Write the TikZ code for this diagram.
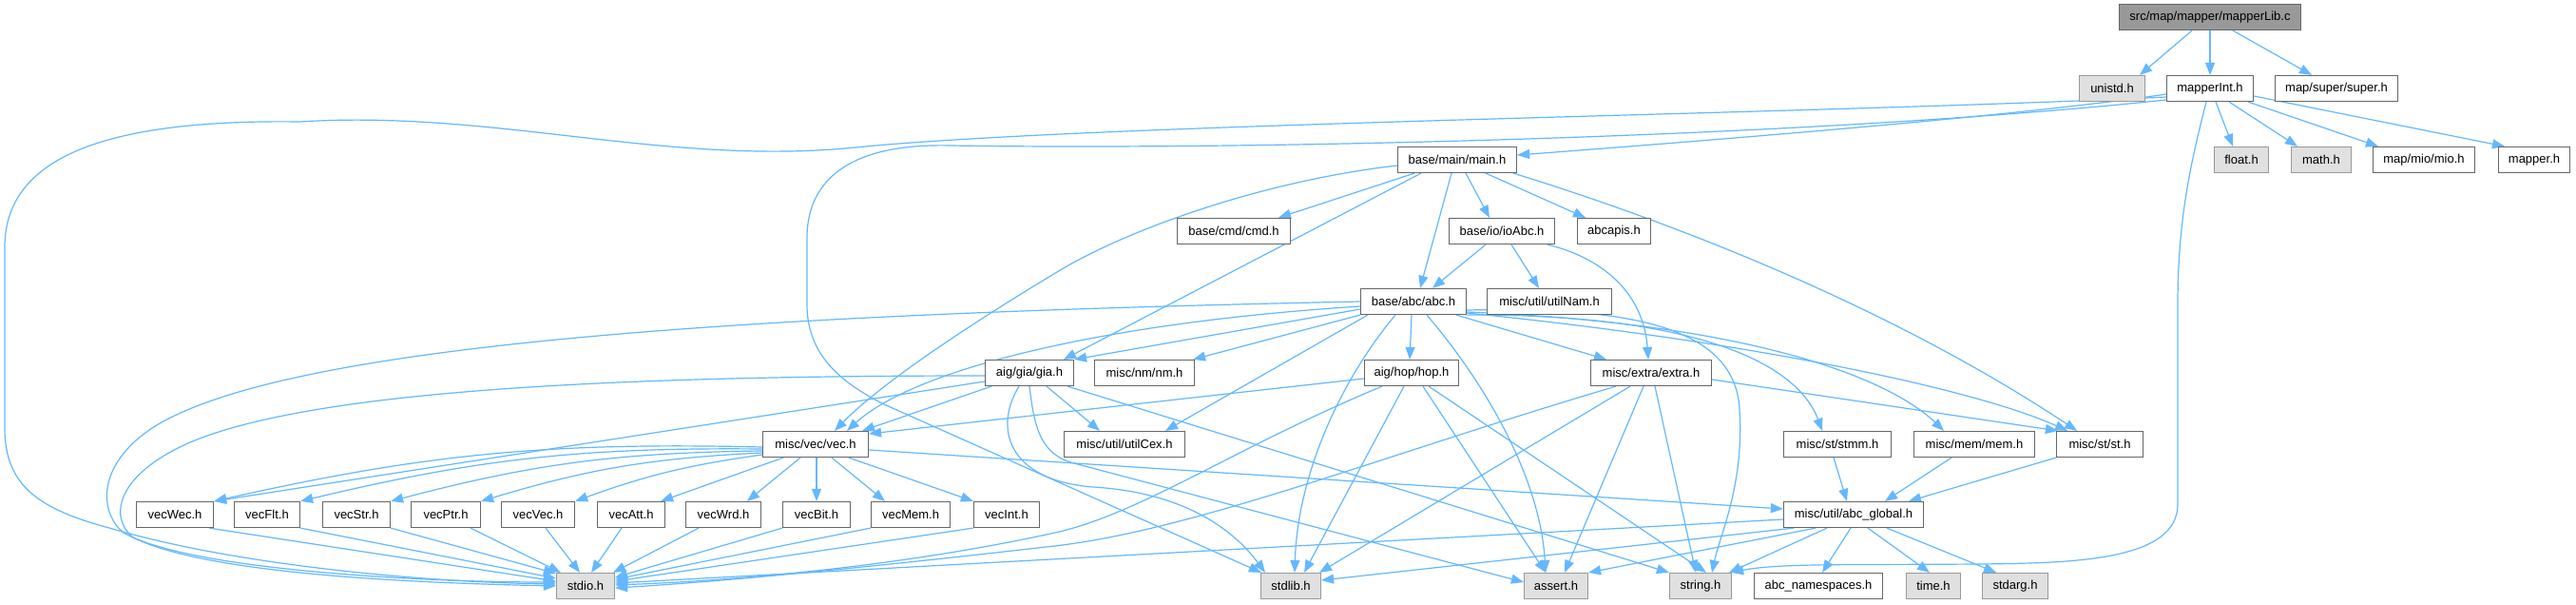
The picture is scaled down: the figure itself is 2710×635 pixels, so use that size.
\documentclass[tikz,border=0pt]{standalone}
\usepackage{fontspec}
\setmainfont{Liberation Sans}
\usetikzlibrary{arrows.meta}
\definecolor{edgec}{HTML}{63B8FF}
\definecolor{bordc}{HTML}{666666}
\definecolor{sysfill}{HTML}{E0E0E0}
\definecolor{sysbord}{HTML}{999999}
\definecolor{rootfill}{HTML}{999999}
\pgfdeclarelayer{bg}
\pgfsetlayers{bg,main}
\begin{document}
\begin{tikzpicture}[x=1pt,y=-1pt,
  box/.style={draw=bordc, fill=white, line width=1.2pt, minimum height=27pt, inner sep=0pt, font=\fontsize{13}{15}\selectfont, text=black},
  sys/.style={box, draw=sysbord, fill=sysfill},
  root/.style={box, fill=rootfill},
  edge/.style={draw=edgec, line width=1.2pt, -{Triangle[length=13pt,width=10pt]}},
]
\useasboundingbox (0,0) rectangle (2710,635);
% nodes
\node[root, minimum width=191pt] (lib) at (2325,18) {src/map/mapper/mapperLib.c};
\node[sys, minimum width=69pt] (unistd) at (2222,93) {unistd.h};
\node[box, minimum width=91pt] (mint) at (2325,93) {mapperInt.h};
\node[box, minimum width=129pt] (super) at (2458,93) {map/super/super.h};
\node[sys, minimum width=57pt] (float) at (2358,168) {float.h};
\node[sys, minimum width=63pt] (math) at (2442,168) {math.h};
\node[box, minimum width=107pt] (mio) at (2550,168) {map/mio/mio.h};
\node[box, minimum width=75pt] (mapper) at (2666,168) {mapper.h};
\node[box, minimum width=125pt] (main) at (1533,168) {base/main/main.h};
\node[box, minimum width=119pt] (cmd) at (1298,243) {base/cmd/cmd.h};
\node[box, minimum width=111pt] (ioAbc) at (1580,243) {base/io/ioAbc.h};
\node[box, minimum width=77pt] (abcapis) at (1698,243) {abcapis.h};
\node[box, minimum width=111pt] (abc) at (1487,317) {base/abc/abc.h};
\node[box, minimum width=131pt] (utilNam) at (1630,317) {misc/util/utilNam.h};
\node[box, minimum width=93pt] (gia) at (1083,392) {aig/gia/gia.h};
\node[box, minimum width=105pt] (nm) at (1204,392) {misc/nm/nm.h};
\node[box, minimum width=99pt] (hop) at (1485,392) {aig/hop/hop.h};
\node[box, minimum width=127pt] (extra) at (1737,392) {misc/extra/extra.h};
\node[box, minimum width=111pt] (vec) at (858,467) {misc/vec/vec.h};
\node[box, minimum width=127pt] (utilCex) at (1183,467) {misc/util/utilCex.h};
\node[box, minimum width=113pt] (stmm) at (1933,467) {misc/st/stmm.h};
\node[box, minimum width=127pt] (mem) at (2077,467) {misc/mem/mem.h};
\node[box, minimum width=91pt] (st) at (2209,467) {misc/st/st.h};
\node[box, minimum width=81pt] (vecWec) at (184,541) {vecWec.h};
\node[box, minimum width=69pt] (vecFlt) at (281,541) {vecFlt.h};
\node[box, minimum width=71pt] (vecStr) at (375,541) {vecStr.h};
\node[box, minimum width=73pt] (vecPtr) at (469,541) {vecPtr.h};
\node[box, minimum width=77pt] (vecVec) at (566,541) {vecVec.h};
\node[box, minimum width=71pt] (vecAtt) at (664,541) {vecAtt.h};
\node[box, minimum width=79pt] (vecWrd) at (761,541) {vecWrd.h};
\node[box, minimum width=71pt] (vecBit) at (859,541) {vecBit.h};
\node[box, minimum width=83pt] (vecMem) at (958,541) {vecMem.h};
\node[box, minimum width=69pt] (vecInt) at (1059,541) {vecInt.h};
\node[box, minimum width=147pt] (glob) at (1950,541) {misc/util/abc\_global.h};
\node[sys, minimum width=61pt] (stdio) at (616,616) {stdio.h};
\node[sys, minimum width=63pt] (stdlib) at (1358,616) {stdlib.h};
\node[sys, minimum width=67pt] (assert) at (1637,616) {assert.h};
\node[sys, minimum width=65pt] (string) at (1789,616) {string.h};
\node[box, minimum width=135pt] (ns) at (1913,616) {abc\_namespaces.h};
\node[sys, minimum width=57pt] (time) at (2034,616) {time.h};
\node[sys, minimum width=69pt] (stdarg) at (2120,616) {stdarg.h};
\begin{pgfonlayer}{bg}
\fill[white] (0,0) rectangle (2710,635);
% mapperLib.c
\draw[edge] ([xshift=-19pt]lib.south) -- ([xshift=29pt]unistd.north);
\draw[edge] (lib.south) -- (mint.north);
\draw[edge] ([xshift=24pt]lib.south) -- ([xshift=-26pt]super.north);
% mapperInt.h
\draw[edge] ([xshift=6pt]mint.south) -- ([xshift=-9pt]float.north);
\draw[edge] ([xshift=20pt]mint.south) -- ([xshift=-25pt]math.north);
\draw[edge] ([xshift=40pt]mint.south) -- ([xshift=-48pt]mio.north);
\draw[edge] ([yshift=-8pt]mint.east) -- ([xshift=-31pt]mapper.north);
\draw[edge] ([xshift=-4pt]mint.south) .. controls (2305,170) and (2291,230) .. (2291,320) -- (2291,530) .. controls (2291,590) and (2180,592) .. (2080,593) .. controls (1950,594) and (1870,592) .. ([xshift=-1pt]string.north east);
\draw[edge] ([yshift=-6pt]mint.west) .. controls (2150,118) and (1900,140) .. ([yshift=5pt]main.east);
\draw[edge] ([yshift=-9pt]mint.west) .. controls (1900,120) and (1150,130) .. (900,155) .. controls (700,175) and (520,115) .. (315,128) .. controls (100,125) and (5,170) .. (5,260) -- (5,450) .. controls (5,510) and (40,535) .. (115,555) .. controls (250,595) and (450,612) .. ([yshift=2pt]stdio.west);
\draw[edge] ([yshift=-12pt]mint.west) .. controls (1900,145) and (1300,158) .. (1000,153) .. controls (880,150) and (849,200) .. (849,250) -- (849,320) .. controls (849,370) and (880,400) .. (930,425) -- ([xshift=1pt]stdlib.north west);
% main.h
\draw[edge] ([xshift=-45pt]main.south) -- ([xshift=47pt]cmd.north);
\draw[edge] ([yshift=-6pt]main.west) .. controls (1330,190) and (1190,240) .. (1117,283) .. controls (1030,335) and (930,400) .. ([xshift=20pt]vec.north);
\draw[edge] ([xshift=-38pt]main.south) -- ([xshift=36pt]gia.north);
\draw[edge] ([xshift=-6pt]main.south) -- ([xshift=7pt]abc.north);
\draw[edge] ([xshift=9pt]main.south) -- ([xshift=-13pt]ioAbc.north);
\draw[edge] ([xshift=30pt]main.south) -- ([xshift=-30pt]abcapis.north);
\draw[edge] ([xshift=59pt]main.south) .. controls (1780,240) and (2000,330) .. ([xshift=-24pt]st.north);
% ioAbc.h
\draw[edge] ([xshift=-17pt]ioAbc.south) -- ([xshift=20pt]abc.north);
\draw[edge] ([xshift=10pt]ioAbc.south) -- ([xshift=-11pt]utilNam.north);
\draw[edge] ([xshift=48pt]ioAbc.south) .. controls (1700,275) and (1730,320) .. ([xshift=-3pt]extra.north);
% abc.h
\draw[edge] ([xshift=-2pt]abc.south) -- ([xshift=-2pt]hop.north);
\draw[edge] ([yshift=-8pt]abc.west) -- (gia.north east);
\draw[edge] (abc.south west) -- ([xshift=-2pt]nm.north east);
\draw[edge] ([xshift=8pt]abc.south west) -- ([xshift=43pt]utilCex.north);
\draw[edge] ([yshift=-5pt]abc.west) .. controls (1150,340) and (960,390) .. ([xshift=33pt]vec.north);
\draw[edge] (abc.west) .. controls (800,330) and (300,360) .. (160,450) .. controls (100,490) and (105,540) .. (130,560) .. controls (200,600) and (450,612) .. ([yshift=4pt]stdio.west);
\draw[edge] ([xshift=-19pt]abc.south) .. controls (1410,400) and (1365,500) .. ([xshift=4pt]stdlib.north);
\draw[edge] ([xshift=14pt]abc.south) .. controls (1560,400) and (1620,500) .. ([xshift=-11pt]assert.north);
\draw[edge] ([yshift=-9pt]abc.east) .. controls (1720,322) and (1825,345) .. (1830,430) .. controls (1835,510) and (1810,560) .. ([xshift=12pt]string.north);
\draw[edge] ([xshift=45pt]abc.south) -- ([xshift=-47pt]extra.north);
\draw[edge] (abc.south east) .. controls (1780,330) and (1890,380) .. ([xshift=-16pt]stmm.north);
\draw[edge] ([yshift=-11pt]abc.east) .. controls (1850,340) and (1990,400) .. ([xshift=-32pt]mem.north);
\draw[edge] ([yshift=-12pt]abc.east) .. controls (1850,360) and (2080,410) .. ([xshift=-34pt]st.north);
% gia.h
\draw[edge] ([yshift=-3pt]gia.west) .. controls (650,395) and (330,410) .. (200,465) .. controls (120,500) and (115,545) .. (140,565) .. controls (220,605) and (450,613) .. (stdio.west);
\draw[edge] ([yshift=-9pt]gia.west) -- (vecWec.north east);
\draw[edge] ([xshift=-40pt]gia.south) -- ([xshift=49pt]vec.north);
\draw[edge] ([xshift=-11pt]gia.south) .. controls (1045,450) and (1060,505) .. (1150,512) .. controls (1250,518) and (1300,560) .. ([xshift=-27pt]stdlib.north);
\draw[edge] (gia.south) .. controls (1088,450) and (1095,478) .. (1130,487) -- ([yshift=4pt]assert.west);
\draw[edge] ([xshift=40pt]gia.south) -- (string.north west);
\draw[edge] ([xshift=18pt]gia.south) -- ([xshift=-26pt]utilCex.north);
% hop.h
\draw[edge] ([yshift=-6pt]hop.west) -- ([yshift=11pt]vec.east);
\draw[edge] ([xshift=-31pt]hop.south) .. controls (1300,470) and (1200,540) .. (1110,560) .. controls (950,595) and (780,610) .. ([yshift=1pt]stdio.east);
\draw[edge] ([xshift=-8pt]hop.south) -- ([xshift=14pt]stdlib.north);
\draw[edge] ([xshift=12pt]hop.south) -- ([xshift=-11pt]assert.north);
\draw[edge] ([xshift=18pt]hop.south) -- ([xshift=6pt]string.north);
% extra.h
\draw[edge] ([xshift=-37pt]extra.south) .. controls (1450,480) and (1250,560) .. (1100,575) .. controls (900,598) and (750,612) .. ([yshift=-2pt]stdio.east);
\draw[edge] ([xshift=-22pt]extra.south) -- ([xshift=30pt]stdlib.north);
\draw[edge] ([xshift=-8pt]extra.south) -- ([xshift=9pt]assert.north);
\draw[edge] ([xshift=4pt]extra.south) -- ([xshift=-5pt]string.north);
\draw[edge] ([yshift=-7pt]extra.east) -- ([xshift=2pt]st.north west);
% vec.h
\draw[edge] ([yshift=-3pt]vec.west) to[bend right=7] (vecWec.north east);
\draw[edge] ([yshift=-5pt]vec.west) to[bend right=7] (vecFlt.north east);
\draw[edge] ([yshift=-7pt]vec.west) to[bend right=7] (vecStr.north east);
\draw[edge] ([yshift=-9pt]vec.west) to[bend right=7] (vecPtr.north east);
\draw[edge] ([yshift=-11pt]vec.west) to[bend right=6] (vecVec.north east);
\draw[edge] ([xshift=-34pt]vec.south) -- ([xshift=-5pt]vecAtt.north east);
\draw[edge] ([xshift=-16pt]vec.south) -- ([xshift=25pt]vecWrd.north);
\draw[edge] ([xshift=1pt]vec.south) -- (vecBit.north);
\draw[edge] ([xshift=17pt]vec.south) -- ([xshift=-27pt]vecMem.north);
\draw[edge] ([xshift=35pt]vec.south) -- (vecInt.north west);
\draw[edge] ([yshift=-6pt]vec.east) -- ([yshift=6pt]glob.west);
% vecX -> stdio
\draw[edge] ([xshift=-5pt]vecWec.south east) -- ([yshift=5pt]stdio.west);
\draw[edge] (vecFlt.south east) -- ([yshift=8pt]stdio.west);
\draw[edge] (vecStr.south east) -- ([yshift=-1pt]stdio.north west);
\draw[edge] ([xshift=-11pt]vecPtr.south east) -- ([xshift=5pt]stdio.north west);
\draw[edge] ([xshift=8pt]vecVec.south) -- ([xshift=-6pt]stdio.north);
\draw[edge] ([xshift=-10pt]vecAtt.south) -- ([xshift=6pt]stdio.north);
\draw[edge] ([xshift=-26pt]vecWrd.south) -- ([xshift=-2pt]stdio.north east);
\draw[edge] (vecBit.south west) -- ([yshift=9pt]stdio.east);
\draw[edge] (vecMem.south west) -- ([yshift=7pt]stdio.east);
\draw[edge] (vecInt.south west) -- ([yshift=5pt]stdio.east);
% abc_global.h
\draw[edge] ([xshift=-4pt]stmm.south) -- ([xshift=-7pt]glob.north);
\draw[edge] ([xshift=-24pt]mem.south) -- ([xshift=33pt]glob.north);
\draw[edge] (st.south west) -- ([xshift=58pt]glob.north);
\draw[edge] ([yshift=-5pt]glob.west) -- ([yshift=3pt]stdio.east);
\draw[edge] ([xshift=-63pt]glob.south) -- ([yshift=6pt]stdlib.east);
\draw[edge] ([xshift=-40pt]glob.south) -- (assert.north east);
\draw[edge] ([xshift=-28pt]glob.south) -- ([xshift=-3pt]string.north east);
\draw[edge] ([xshift=-3pt]glob.south) -- ([xshift=4pt]ns.north);
\draw[edge] ([xshift=15pt]glob.south) -- ([xshift=-4pt]time.north);
\draw[edge] ([xshift=35pt]glob.south) -- ([xshift=-20pt]stdarg.north);
\end{pgfonlayer}
\end{tikzpicture}
\end{document}
